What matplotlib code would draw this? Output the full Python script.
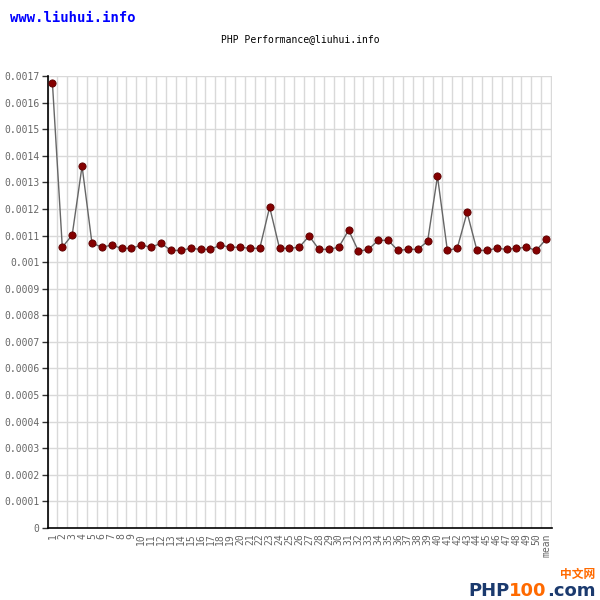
import matplotlib
matplotlib.use("Agg")
import matplotlib.pyplot as plt
import numpy as np

# run labels and timings (seconds)
labels = [str(i) for i in range(1, 51)] + ["mean"]
times = [
    0.001672, 0.001056, 0.001102, 0.001361, 0.001072, 0.001056, 0.001064, 0.001052, 0.001052, 0.001064,
    0.001056, 0.001071, 0.001044, 0.001044, 0.001052, 0.001048, 0.001048, 0.001064, 0.001056, 0.001056,
    0.001052, 0.001052, 0.001207, 0.001052, 0.001052, 0.001056, 0.001098, 0.001048, 0.001048, 0.001056,
    0.001120, 0.001041, 0.001048, 0.001082, 0.001082, 0.001044, 0.001048, 0.001048, 0.001078, 0.001323,
    0.001044, 0.001052, 0.001187, 0.001044, 0.001044, 0.001052, 0.001048, 0.001052, 0.001056, 0.001044,
    0.001086,
]
yticks = [i * 0.0001 for i in range(18)]

mono = "DejaVu Sans Mono"
tick_col = "#666666"

fig = plt.figure(figsize=(6, 6), dpi=100)
fig.patch.set_facecolor("white")
ax = fig.add_axes([48 / 600, 1 - 528 / 600, 504 / 600, 452 / 600])

x = np.arange(len(labels))
ax.plot(x, times, color="#666666", lw=1, zorder=3)
ax.plot(x, times, ls="none", marker="o", ms=5.2, mfc="#850000", mec="#5a0000", mew=0.6, zorder=4)

ax.set_xlim(-0.45, len(labels) - 0.4)
ax.set_ylim(0, 0.0017)

# grid: vertical lines between categories, horizontal at each y tick
for gx in np.arange(-0.5, len(labels), 1.0):
    ax.axvline(gx, color="#d9d9d9", lw=1, zorder=1)
for gy in yticks[1:]:
    ax.axhline(gy, color="#d9d9d9", lw=1, zorder=1)

ax.set_yticks(yticks)
ax.set_yticklabels(["%g" % v for v in yticks], fontsize=7, family=mono, color=tick_col)
ax.set_xticks(x)
ax.set_xticklabels(labels, rotation=90, fontsize=7, family=mono, color=tick_col)
ax.tick_params(axis="y", length=4, width=1, color="#333333", pad=2)
ax.tick_params(axis="x", length=0, pad=4)

for s in ["top", "right"]:
    ax.spines[s].set_visible(False)
for s in ["left", "bottom"]:
    ax.spines[s].set_color("black")
    ax.spines[s].set_linewidth(1.2)

fig.text(300 / 600, 1 - 39 / 600, "PHP Performance@liuhui.info", ha="center", va="center",
         fontsize=7, family=mono, color="black")
fig.text(10 / 600, 1 - 18 / 600, "www.liuhui.info", ha="left", va="center",
         fontsize=10, family=mono, weight="bold", color="#0000ff")

# PHP100.com logo, bottom right
t1 = fig.text(468 / 600, 1 - 596 / 600, "PHP", ha="left", va="baseline",
              fontsize=13, family="DejaVu Sans", weight="bold", color="#1b3a6e")
t2 = fig.text(0, 0, "100", fontsize=13, family="DejaVu Sans", weight="bold", color="#ff6a00",
              va="baseline")
fig.canvas.draw()
r = fig.canvas.get_renderer()
bb1 = t1.get_window_extent(r)
t2.set_position((bb1.x1 / 600, 1 - 596 / 600))
fig.canvas.draw()
bb2 = t2.get_window_extent(r)
fig.text(bb2.x1 / 600, 1 - 596 / 600, ".com", ha="left", va="baseline",
         fontsize=13, family="DejaVu Sans", weight="bold", color="#1b3a6e")
fig.text(595 / 600, 1 - 574 / 600, "中文网", ha="right", va="center",
         fontsize=8.5, family=["Noto Sans CJK SC", "DejaVu Sans"], weight="bold", color="#ff6a00")

fig.savefig("out.png", dpi=100)
